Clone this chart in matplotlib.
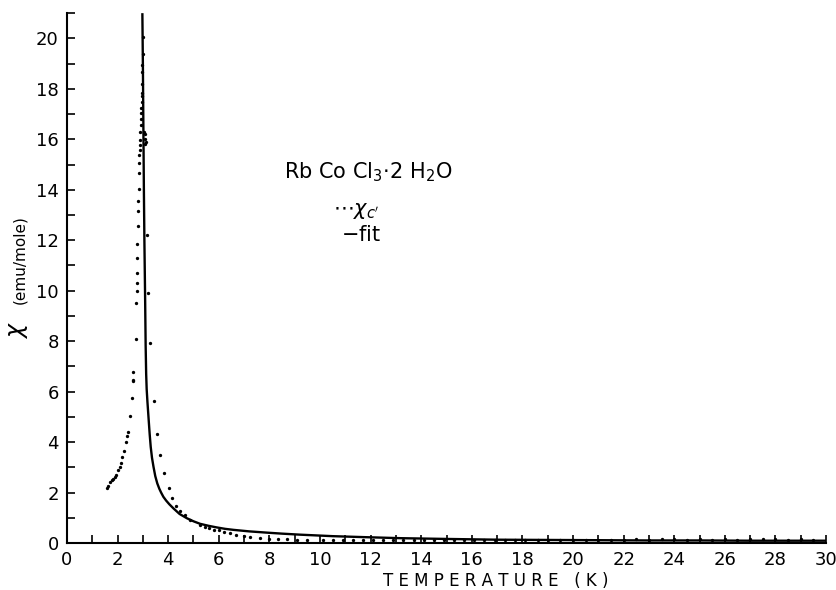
import matplotlib
matplotlib.use("Agg")
import matplotlib.pyplot as plt
from matplotlib.ticker import MultipleLocator

# measured susceptibility chi_c' (emu/mole) vs temperature (K)
temp_data = [1.57, 1.63, 1.70, 1.77, 1.83, 1.88, 1.94, 2.03, 2.09, 2.14, 2.19, 2.26,
             2.33, 2.38, 2.41, 2.49, 2.58, 2.60, 2.61, 2.62, 2.73, 2.74, 2.75, 2.75, 2.76,
             2.77, 2.78, 2.80, 2.81, 2.82, 2.83, 2.84, 2.85, 2.86, 2.87, 2.88, 2.89,
             2.90, 2.91, 2.92, 2.93, 2.94, 2.95, 2.96, 2.96, 2.97, 2.98, 2.98, 2.99,
             3.00, 3.06, 3.07, 3.08, 3.10, 3.12,
             3.18, 3.19, 3.28, 3.45, 3.57, 3.68, 3.84, 4.02, 4.17, 4.31, 4.47, 4.67,
             4.87, 5.26, 5.46, 5.63, 5.83, 5.99, 6.19, 6.45, 6.69, 6.98, 7.24, 7.64,
             7.97, 8.36, 8.70, 9.09, 9.50, 10.1, 10.5, 10.9, 11.3, 11.7, 12.1, 12.5,
             12.9, 13.3, 13.7, 14.1, 14.5, 14.9, 15.3, 15.7, 16.1, 16.5, 16.9, 17.3,
             17.7, 18.1, 18.6, 19.0, 19.5, 20.0, 20.5, 21.0, 21.5, 22.0, 22.5, 23.0,
             23.5, 24.0, 24.5, 25.0, 25.5, 26.0, 26.5, 27.0, 27.5, 28.0, 28.5, 29.0, 29.5]
chi_data = [2.17, 2.27, 2.43, 2.48, 2.53, 2.60, 2.69, 2.89, 3.00, 3.16, 3.42, 3.66,
            3.99, 4.25, 4.41, 5.03, 5.73, 6.46, 6.43, 6.76, 8.09, 9.52, 9.98, 10.3, 10.69,
            11.28, 11.84, 12.55, 13.15, 13.56, 14.05, 14.67, 15.08, 15.37, 15.56, 15.76, 15.96,
            16.29, 16.55, 16.79, 17.03, 17.23, 17.47, 17.70, 17.83, 18.18, 18.67, 18.93, 19.40,
            20.04, 16.3, 16.0, 15.8, 16.2, 15.9,
            12.2, 9.89, 7.93, 5.64, 4.32, 3.47, 2.76, 2.17, 1.77, 1.47, 1.27, 1.10,
            0.91, 0.70, 0.63, 0.58, 0.52, 0.51, 0.43, 0.38, 0.32, 0.29, 0.25, 0.21,
            0.17, 0.17, 0.16, 0.13, 0.12, 0.11, 0.11, 0.10, 0.11, 0.10, 0.11, 0.10,
            0.11, 0.11, 0.10, 0.11, 0.11, 0.12, 0.11, 0.12, 0.11, 0.12, 0.12, 0.11,
            0.12, 0.12, 0.13, 0.12, 0.13, 0.12, 0.13, 0.13, 0.12, 0.13, 0.14, 0.13,
            0.14, 0.14, 0.13, 0.15, 0.13, 0.14, 0.13, 0.15, 0.14, 0.14, 0.13, 0.14, 0.13]

# fit curve
temp_fit = [2.98, 3.00, 3.02, 3.04, 3.06, 3.08, 3.09, 3.11, 3.13, 3.15, 3.18, 3.23,
            3.27, 3.31, 3.36, 3.42, 3.49, 3.57, 3.65, 3.72, 3.81, 3.92, 4.05, 4.21,
            4.45, 4.74, 5.00, 5.26, 5.60, 5.90, 6.25, 6.58, 7.20, 7.90, 8.50, 9.20,
            10.5, 11.8, 13.2, 15.0, 17.0, 19.0, 21.0, 23.0, 25.0, 27.0, 29.0, 30.0]
chi_fit = [21.0, 19.0, 16.5, 14.0, 12.0, 10.4, 9.6, 7.8, 6.7, 6.1, 5.6, 4.87,
           4.30, 3.81, 3.38, 3.02, 2.65, 2.36, 2.15, 2.00, 1.83, 1.68, 1.53, 1.37,
           1.15, 0.98, 0.86, 0.76, 0.68, 0.62, 0.56, 0.52, 0.46, 0.41, 0.37, 0.33,
           0.27, 0.23, 0.19, 0.16, 0.13, 0.12, 0.11, 0.10, 0.10, 0.09, 0.09, 0.09]

x_major = list(range(0, 31, 2))
y_major = list(range(0, 21, 2))

plt.rcParams['font.family'] = ['DejaVu Sans']
fig = plt.figure(figsize=(8.36, 5.9), dpi=100)
ax = fig.add_axes([0.0801, 0.0797, 0.908, 0.898])

ax.plot(temp_fit, chi_fit, color='black', lw=1.7, solid_capstyle='butt',
        solid_joinstyle='round')
ax.plot(temp_data, chi_data, linestyle='none', marker='o', ms=2.4, color='black', mew=0)

ax.set_xlim(0, 30)
ax.set_ylim(0, 21)
ax.spines['top'].set_visible(False)
ax.spines['right'].set_visible(False)
ax.spines['left'].set_linewidth(1.5)
ax.spines['bottom'].set_linewidth(1.5)
ax.set_xticks(x_major)
ax.set_yticks(y_major)
ax.xaxis.set_minor_locator(MultipleLocator(1))
ax.yaxis.set_minor_locator(MultipleLocator(1))
ax.tick_params(which='both', direction='in', length=6, width=1.2, labelsize=13)
ax.tick_params(axis='x', pad=6)
ax.tick_params(axis='y', pad=6)

ax.set_xlabel('T E M P E R A T U R E   ( K )', fontsize=12, labelpad=8)
ax.xaxis.set_label_coords(0.565, -0.055)
fig.text(0.022, 0.44, r'$\chi$', fontsize=17, rotation=90, va='center', ha='center')
fig.text(0.024, 0.56, '(emu/mole)', fontsize=11, rotation=90, va='center', ha='center')

fig.text(0.44, 0.708, r'Rb Co Cl$_3$$\cdot$2 H$_2$O', fontsize=15, ha='center', va='center')
fig.text(0.398, 0.643, r'$\cdots\chi_{c^\prime}$', fontsize=15, ha='left', va='center')
fig.text(0.408, 0.601, r'$-$fit', fontsize=15, ha='left', va='center')

fig.savefig('out.png', dpi=100)
